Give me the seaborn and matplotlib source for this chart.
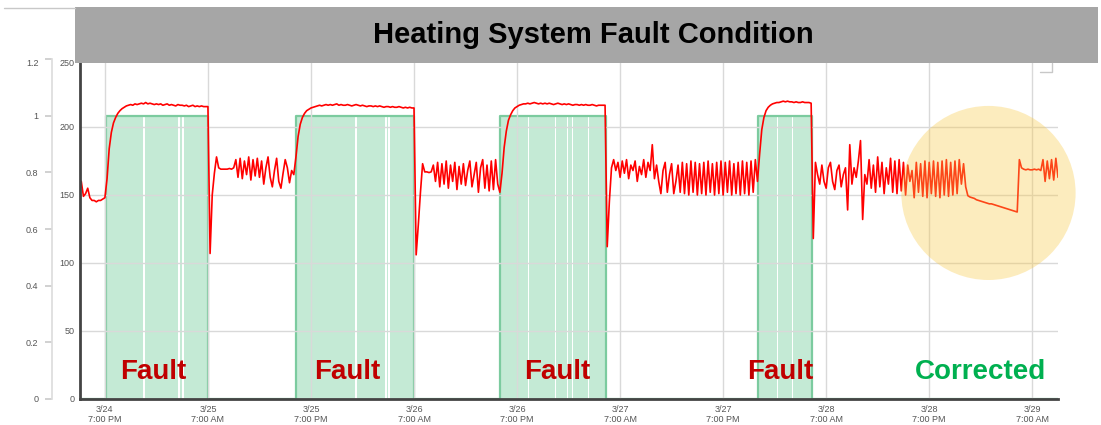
import numpy as np
import pandas as pd
import seaborn as sns
import matplotlib.pyplot as plt
from matplotlib.patches import Rectangle, Ellipse
from matplotlib.lines import Line2D

# supply temperature trend, one reading every 15 min
# hours are counted from 3/24 7:00 PM
step = 0.25
seg_start = [-3.0, 0.0, 12.25, 22.0, 36.25, 46.0, 58.5, 76.0, 82.5, 100.5, 106.5]

temp_before = [150, 160, 149, 151, 155, 148, 146, 146, 145, 146, 146, 147]
temp_fault1 = [148, 162, 184, 196, 203, 207, 210, 212, 213.5, 214.5, 215.5, 216,
               216.5, 216, 217, 216.5, 217, 217.5, 217, 218, 217, 217.5, 217, 216.5,
               217, 216.5, 217, 216, 216.5, 217, 216, 216.5, 216, 215.5, 216.5, 216,
               216, 215.5, 216, 215, 215.5, 216, 215, 215.5, 215, 215.5, 215, 215,
               215]
temp_normal1 = [107, 150, 166, 178, 170, 169, 169, 169, 169, 169.5, 169, 170,
                176, 163, 177, 162, 175, 165, 178, 161, 176, 164, 177, 163, 175,
                158, 170, 178, 163, 156, 168, 177, 160, 155, 166, 176, 170, 159, 168]
temp_fault2 = [165, 178, 193, 202, 207, 210, 212, 213, 214, 214.5, 215, 215.5,
               216, 215.5, 216, 216.5, 216, 216.5, 216, 216.5, 217, 216, 216.5, 216,
               216, 216.5, 216, 215.5, 216, 216.5, 216, 215.5, 216, 215.5, 215, 215.5,
               215.5, 215, 215.5, 215, 215.5, 215, 214.5, 215, 215, 214.5, 215, 214.5,
               214.5, 215, 214.5, 214, 214.5, 214, 214.5, 214,
               214]
temp_normal2 = [106, 128, 152, 173, 167, 167, 166.5, 167,
                172, 160, 174, 156, 173, 158, 175, 155, 172, 160, 174, 154, 171, 158, 173,
                157, 168, 175, 156, 165, 174, 152, 170, 176, 155, 172, 153, 175, 154, 176, 158]
temp_fault3 = [152, 166, 185, 197, 205, 209, 212, 214, 215, 216, 216.5, 217,
               217, 217.5, 217, 217.5, 218, 217.5, 217, 217.5, 217, 217.5, 217, 217.5,
               217, 216.5, 217, 217.5, 217, 216.5, 217, 216.5, 217, 216.5, 216, 216.5,
               216.5, 216, 216.5, 216, 216.5, 216, 216, 216.5, 216, 215.5, 216, 216,
               216, 216]
temp_normal3 = [112, 145, 170, 176,
                168, 174, 163, 175, 166, 176, 162, 172, 168, 175, 160, 171, 165, 176, 163, 174, 168, 187,
                162, 172, 160, 151, 168, 174, 152, 165, 173, 151, 160, 172,
                152, 174, 151, 173, 150, 175, 152, 174, 150, 173, 151, 174, 150, 175, 152, 173, 150, 174,
                151, 175, 150, 174, 152, 175, 150, 173, 151, 174, 150, 175, 151, 174, 150, 175, 152, 176]
temp_fault4 = [160, 180, 198, 207, 212, 214.5, 216, 217,
               217.5, 218, 218, 218.5, 219, 218.5, 219, 218.5, 218.5, 218, 218.5, 218,
               218, 218.5, 218, 218, 218, 217.5]
temp_normal4 = [118, 174, 165,
                158, 172, 160, 155, 170, 174, 160, 154, 168, 172, 156, 165,
                170, 139, 187,
                158, 170, 163, 175, 190,
                132, 165,
                158, 176, 155, 172, 152, 178, 156, 174, 151, 170, 158, 177, 152, 175, 151, 176, 153, 174,
                150, 172, 160, 168, 148, 174, 152, 173, 149, 175, 148, 174, 151, 175, 149, 174, 148,
                175, 150, 176, 149, 174, 150, 175, 151, 176, 158, 173, 156]
temp_reset = [149.5, 148.5, 148, 147.5, 146.5, 146, 145.5, 145, 144.5, 144, 143.5, 143.5,
              143, 142.5, 142, 141.5, 141, 140.5, 140, 139.5, 139, 138.5, 138, 137.5]
temp_after = [176, 170, 169, 168.5, 169, 168.5, 168.5, 169, 168.5, 169, 168,
              176, 160, 175, 162, 176, 161, 177, 163]

segments = [temp_before, temp_fault1, temp_normal1, temp_fault2, temp_normal2,
            temp_fault3, temp_normal3, temp_fault4, temp_normal4, temp_reset, temp_after]

# fault flag periods (hours) and short gaps in the flag
fault_start = [0.12, 22.26, 46.04, 76.1]
fault_end = [12.0, 36.0, 58.4, 82.4]
fault_gaps = [4.55, 8.62, 9.09, 29.25, 32.75, 33.1, 49.3, 52.45, 53.85, 54.43, 56.3, 78.3, 80.07]

tick_hours = [0, 12, 24, 36, 48, 60, 72, 84, 96, 108]
tick_labels = ["3/24\n7:00 PM", "3/25\n7:00 AM", "3/25\n7:00 PM", "3/26\n7:00 AM",
               "3/26\n7:00 PM", "3/27\n7:00 AM", "3/27\n7:00 PM", "3/28\n7:00 AM",
               "3/28\n7:00 PM", "3/29\n7:00 AM"]
temp_ticks = [0, 50, 100, 150, 200, 250]
flag_ticks = [0, 0.2, 0.4, 0.6, 0.8, 1, 1.2]
flag_labels = ["0", "0.2", "0.4", "0.6", "0.8", "1", "1.2"]

label_text = ["Fault", "Fault", "Fault", "Fault", "Corrected"]
label_hour = [5.65, 28.2, 52.7, 78.6, 102.0]

rows = []
for t0, vals in zip(seg_start, segments):
    for k, v in enumerate(vals):
        rows.append((t0 + step * k, v))
df = pd.DataFrame(rows, columns=["hour", "temp"])

sns.set_theme(style="white")
plt.rcParams['font.family'] = ['Liberation Sans', 'DejaVu Sans']

fig = plt.figure(figsize=(11.01, 4.25), dpi=100)
ax = fig.add_axes([80 / 1101, 1 - 399 / 425, 978 / 1101, 340 / 425])
ax2 = ax.twinx()
ax.set_zorder(2)
ax2.set_zorder(1)
ax.patch.set_visible(False)

# fault flag area on the 0-1.2 scale
for s, e in zip(fault_start, fault_end):
    cuts = [g for g in fault_gaps if s < g < e]
    edges = [s] + [v for g in cuts for v in (g - 0.08, g + 0.08)] + [e]
    for a, b in zip(edges[::2], edges[1::2]):
        ax2.fill_between([a, b], 0, 1, color='#c4ead5', lw=0)
xs, ys = [-2.9], [0]
for s, e in zip(fault_start, fault_end):
    xs += [s, s, e, e]
    ys += [0, 1, 1, 0]
xs.append(111.0)
ys.append(0)
ax2.plot(xs, ys, color='#7ccb9f', lw=1.6, zorder=3)

sns.lineplot(data=df, x="hour", y="temp", ax=ax, color='#ff0000', lw=1.2,
             estimator=None, sort=False, zorder=2)

ax.add_patch(Ellipse((102.9, 151.5), 20.3, 128, facecolor='#f9c945', alpha=0.35,
                     lw=0, zorder=4, clip_on=False))

ax.set_xlim(-2.9, 111.0)
ax.set_ylim(0, 250)
ax2.set_ylim(0, 1.2)
ax.set_xticks(tick_hours)
ax.set_xticklabels(tick_labels)
ax.set_yticks(temp_ticks)
ax.set_xlabel("")
ax.set_ylabel("")
ax.grid(True, color='#d9d9d9', lw=1)
ax.set_axisbelow(True)
ax.tick_params(axis='both', length=0, labelsize=6.5, labelcolor='#555555', pad=4)

for side in ['top', 'right']:
    ax.spines[side].set_visible(False)
    ax2.spines[side].set_visible(False)
ax.spines['left'].set_color('#444444')
ax.spines['left'].set_linewidth(2)
ax.spines['bottom'].set_color('#444444')
ax.spines['bottom'].set_linewidth(2)

ax2.yaxis.tick_left()
ax2.spines['left'].set_visible(True)
ax2.spines['left'].set_position(('outward', 20))
ax2.spines['left'].set_color('#dddddd')
ax2.spines['bottom'].set_visible(False)
ax2.set_yticks(flag_ticks)
ax2.set_yticklabels(flag_labels)
ax2.tick_params(axis='y', length=5, color='#cccccc', labelsize=6.5, labelcolor='#555555', pad=5)

for lbl in [ax.get_yticklabels()[-1], ax2.get_yticklabels()[-1]]:
    lbl.set_verticalalignment('top')

for txt, h in zip(label_text, label_hour):
    ax.text(h, 14.7, txt, ha='center', va='baseline', fontsize=20, weight='bold',
            color='#00b050' if txt == "Corrected" else '#c00000', zorder=5)

# title banner
fig.add_artist(Rectangle((75 / 1101, 1 - 63 / 425), 1023 / 1101, 56 / 425,
                         transform=fig.transFigure, facecolor='#a6a6a6', lw=0, zorder=10))
fig.text(593.5 / 1101, 1 - 35 / 425, "Heating System Fault Condition", ha='center',
         va='center', fontsize=21, weight='bold', color='black', zorder=11)
fig.add_artist(Line2D([4 / 1101, 75 / 1101], [1 - 8 / 425] * 2, transform=fig.transFigure,
                      color='#c8c8c8', lw=1, zorder=10))
fig.add_artist(Line2D([1040 / 1101, 1052 / 1101, 1052 / 1101],
                      [1 - 72 / 425, 1 - 72 / 425, 1 - 63 / 425], transform=fig.transFigure,
                      color='#c8c8c8', lw=1, zorder=10))

fig.savefig("out.png", dpi=100)
